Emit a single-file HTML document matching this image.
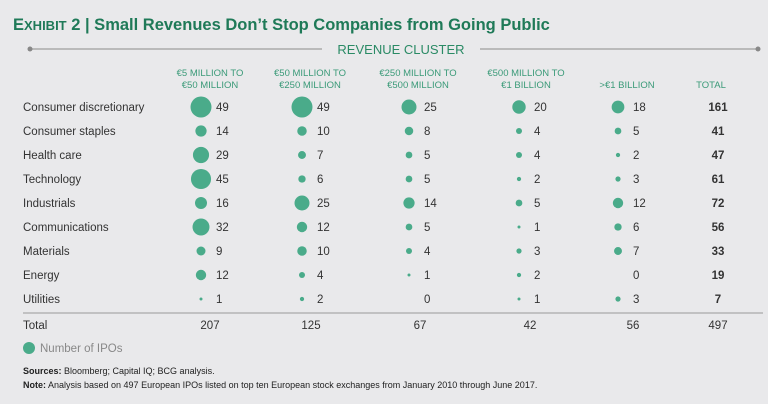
<!DOCTYPE html>
<html><head><meta charset="utf-8"><style>
body{margin:0;background:#e9e9eb;font-family:"Liberation Sans",sans-serif;}
svg{display:block}
</style></head><body>
<svg width="768" height="404" viewBox="0 0 768 404">
<rect width="768" height="404" fill="#e9e9eb"/>
<text x="13" y="30" font-size="16.5" font-weight="bold" fill="#1f7a58">E<tspan font-size="13">XHIBIT</tspan> 2 | Small Revenues Don’t Stop Companies from Going Public</text>
<line x1="30" y1="49" x2="322" y2="49" stroke="#aaa" stroke-width="1.5"/>
<line x1="480" y1="49" x2="758" y2="49" stroke="#aaa" stroke-width="1.5"/>
<circle cx="30" cy="49" r="2.5" fill="#888"/><circle cx="758" cy="49" r="2.5" fill="#888"/>
<text x="401" y="54" font-size="13" fill="#2a8a65" text-anchor="middle">REVENUE CLUSTER</text>
<g id="hdr" font-size="9.5" fill="#3a9a78" text-anchor="middle"></g>
<g id="body" font-size="11.5" fill="#333"></g>
<line x1="23" y1="313" x2="763" y2="313" stroke="#999" stroke-width="1"/>
<circle cx="29" cy="348" r="6" fill="#4aab8a"/>
<text x="40" y="352" font-size="11.5" fill="#888">Number of IPOs</text>
<text x="23" y="374" font-size="9" fill="#222"><tspan font-weight="bold">Sources:</tspan> Bloomberg; Capital IQ; BCG analysis.</text>
<text x="23" y="388" font-size="9" fill="#222"><tspan font-weight="bold">Note:</tspan> Analysis based on 497 European IPOs listed on top ten European stock exchanges from January 2010 through June 2017.</text>
</svg>
<script>
const headers=[["€5 MILLION TO","€50 MILLION"],["€50 MILLION TO","€250 MILLION"],["€250 MILLION TO","€500 MILLION"],["€500 MILLION TO","€1 BILLION"],["",">€1 BILLION"],["","TOTAL"]];
const sectors=["Consumer discretionary","Consumer staples","Health care","Technology","Industrials","Communications","Materials","Energy","Utilities"];
const col1=[49,14,29,45,16,32,9,12,1];
const col2=[49,10,7,6,25,12,10,4,2];
const col3=[25,8,5,5,14,5,4,1,0];
const col4=[20,4,4,2,5,1,3,2,1];
const col5=[18,5,2,3,12,6,7,0,3];
const series=[col1,col2,col3,col4,col5];
const NS="http://www.w3.org/2000/svg";
const hdrX=[210,310,418,526,627,711];
const bubX=[201,302,409,519,618];
const totX=718;
const rowY=i=>107+i*24;
const rad=v=>Math.sqrt(v/49)*10.5;
function mk(tag,attrs,parent,txt){const e=document.createElementNS(NS,tag);for(const k in attrs)e.setAttribute(k,attrs[k]);if(txt!==undefined)e.textContent=txt;parent.appendChild(e);return e;}
const hdr=document.getElementById('hdr'),body=document.getElementById('body');
headers.forEach((h,j)=>{
  h.forEach((line,k)=>{if(!line)return;
    const t=mk('text',{x:hdrX[j],y:76+k*12},hdr,line);
    
    
  });
});
sectors.forEach((s,i)=>{
  const y=rowY(i);
  const l=mk('text',{x:23,y:y+4},body,s);
  
  
  let tot=0;
  series.forEach((ser,j)=>{
    const v=ser[i];tot+=v;
    if(v>0){const c=mk('circle',{cx:bubX[j],cy:y,r:rad(v),fill:'#4aab8a'},body);
      
      }
    const t=mk('text',{x:bubX[j]+15,y:y+4},body,String(v));
    
    
  });
  const tt=mk('text',{x:totX,y:y+4,'text-anchor':'middle','font-weight':'bold'},body,String(tot));
  
  
});
const tl=mk('text',{x:23,y:329},body,'Total');


let grand=0;
const totCX=[210,311,420,530,633];
series.forEach((ser,j)=>{
  const s=ser.reduce((a,b)=>a+b,0);grand+=s;
  const t=mk('text',{x:totCX[j],y:329,'text-anchor':'middle'},body,String(s));
  
  
});
const g=mk('text',{x:totX,y:329,'text-anchor':'middle'},body,String(grand));


</script>
</body></html>
